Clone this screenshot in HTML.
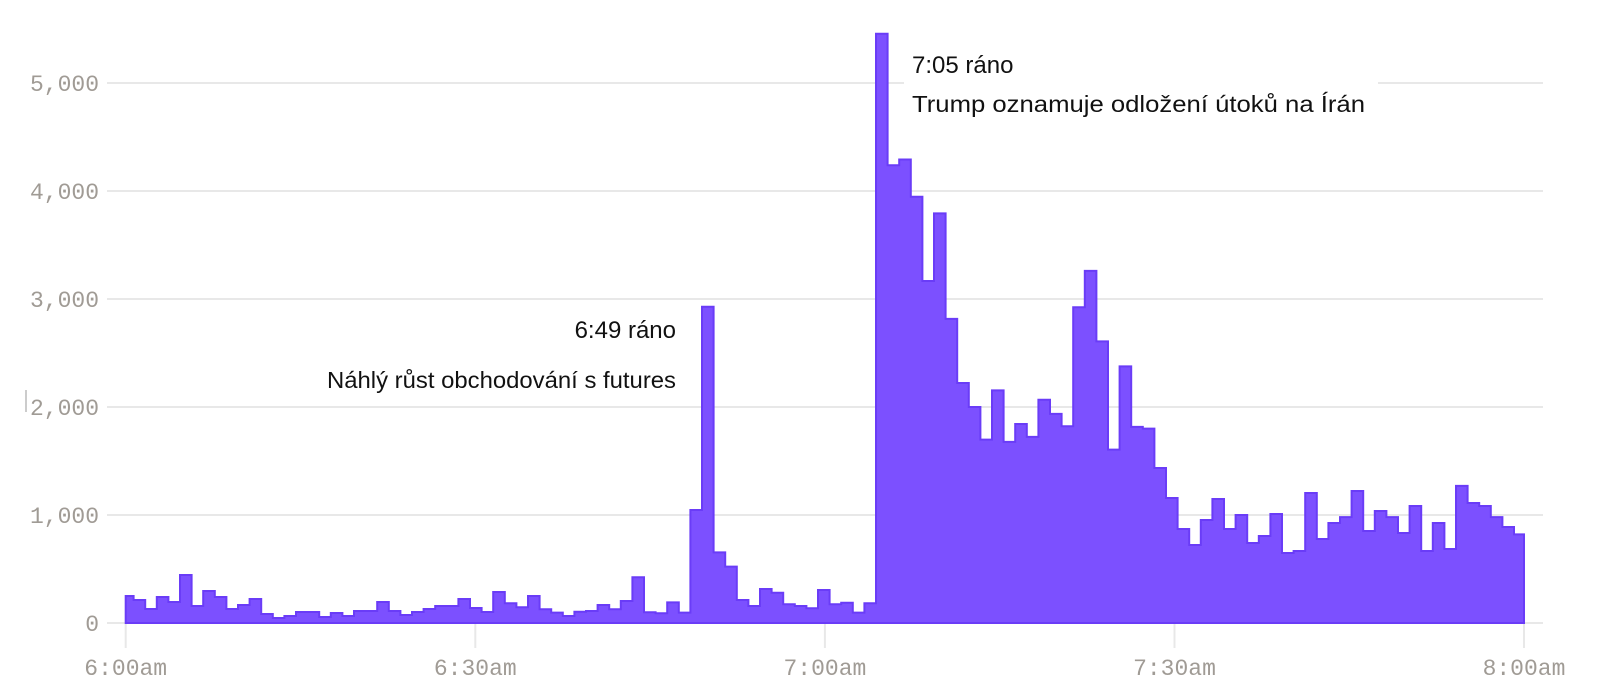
<!DOCTYPE html>
<html><head><meta charset="utf-8"><style>
html,body{margin:0;padding:0;background:#fff;width:1600px;height:697px;overflow:hidden}
svg{display:block}
.yl{font-family:"Liberation Mono",monospace;font-size:23px;fill:#a09b95;text-anchor:end}
.xl{font-family:"Liberation Mono",monospace;font-size:23px;fill:#a09b95;text-anchor:middle}
.an{font-family:"Liberation Sans","DejaVu Sans",sans-serif;font-size:23px;fill:#111}
.an1{font-family:"Liberation Sans","DejaVu Sans",sans-serif;font-size:24px;fill:#111}
</style></head><body>
<svg id="c" width="1600" height="697" viewBox="0 0 1600 697" xmlns="http://www.w3.org/2000/svg">
<g stroke="#e8e8e8" stroke-width="2">
<line x1="107" y1="83" x2="1543" y2="83"/>
<line x1="107" y1="191" x2="1543" y2="191"/>
<line x1="107" y1="299" x2="1543" y2="299"/>
<line x1="107" y1="407" x2="1543" y2="407"/>
<line x1="107" y1="515" x2="1543" y2="515"/>
<line x1="107" y1="623" x2="1543" y2="623"/>
<line x1="125.7" y1="623" x2="125.7" y2="648"/>
<line x1="475.3" y1="623" x2="475.3" y2="648"/>
<line x1="824.9" y1="623" x2="824.9" y2="648"/>
<line x1="1174.5" y1="623" x2="1174.5" y2="648"/>
<line x1="1524" y1="623" x2="1524" y2="648"/>
</g>
<line x1="26" y1="390" x2="26" y2="412" stroke="#999" stroke-width="1"/>
<text class="yl" x="99" y="91">5,000</text>
<text class="yl" x="99" y="199">4,000</text>
<text class="yl" x="99" y="307">3,000</text>
<text class="yl" x="99" y="415">2,000</text>
<text class="yl" x="99" y="523">1,000</text>
<text class="yl" x="99" y="631">0</text>
<text class="xl" x="125.7" y="675">6:00am</text>
<text class="xl" x="475.3" y="675">6:30am</text>
<text class="xl" x="824.9" y="675">7:00am</text>
<text class="xl" x="1174.5" y="675">7:30am</text>
<text class="xl" x="1524" y="675">8:00am</text>
<rect x="904" y="40" width="474" height="85" fill="#fff"/>
<rect x="318" y="306" width="367" height="98" fill="#fff"/>
<path id="bars" fill="#7c50ff" stroke="#6a3cf7" stroke-width="2" stroke-linejoin="miter" d=""/>
<text class="an1" x="676" y="338" text-anchor="end">6:49 ráno</text>
<text class="an" x="676" y="388" text-anchor="end" textLength="349" lengthAdjust="spacingAndGlyphs">Náhlý růst obchodování s futures</text>
<text class="an1" x="912" y="73">7:05 ráno</text>
<text class="an" x="912" y="112" textLength="453" lengthAdjust="spacingAndGlyphs">Trump oznamuje odložení útoků na Írán</text>
</svg>
<script>
var pre=[250,213,130,241,194,444,157,296,241,130,167,222,83,46,65,102,102,56,93,65,111,111,194,111,74,102,130,157,157,222,139,102,287,
182,145,250,127,96,65,105,111,167,127,204,423,99,90,191,96,1046,2929,654,522,213,157,315,281,173,157,136,306,173,188,96,182];
var post=[5456,4239,4292,3947,3167,3793,2816,2222,2000,1698,2154,1677,1843,1723,2068,1936,1822,2924,3260,2607,1606,2376,1816,
1800,1435,1157,870,722,954,1148,870,1000,741,806,1009,648,667,1204,778,926,981,1222,852,1037,981,833,1083,667,926,685,1269,1111,1083,981,889,820];
var w=11.6,sx=876,x0=125.7,xe=1524;
function Y(v){return 623-v*0.108;}
var d="M"+x0+",623";
for(var i=0;i<pre.length;i++){
  var k=i-1;
  var a=(k<0)?x0:sx-(64-k)*w;
  var b=sx-(63-k)*w;
  d+=" L"+a.toFixed(1)+","+Y(pre[i]).toFixed(1)+" L"+b.toFixed(1)+","+Y(pre[i]).toFixed(1);
}
for(var j=0;j<post.length;j++){
  var a=sx+j*w,b=Math.min(sx+(j+1)*w,xe);
  if(a>=xe)break;
  if(j==post.length-1)b=xe;
  d+=" L"+a.toFixed(1)+","+Y(post[j]).toFixed(1)+" L"+b.toFixed(1)+","+Y(post[j]).toFixed(1);
}
d+=" L"+xe+",623 Z";
document.getElementById("bars").setAttribute("d",d);
</script>
</body></html>
